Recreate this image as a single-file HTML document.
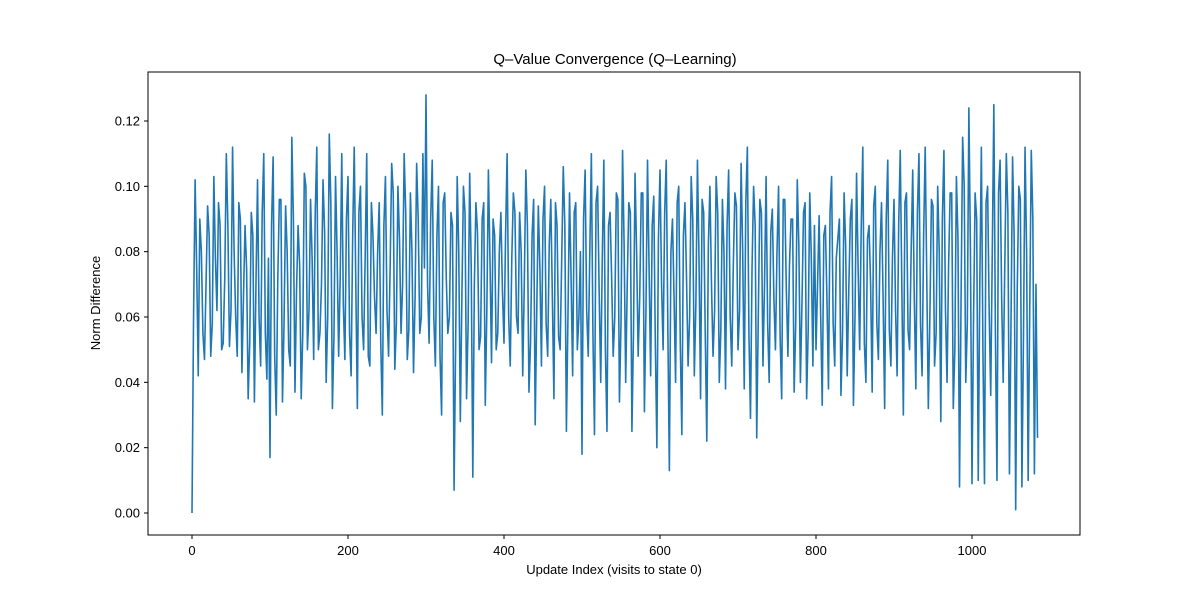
<!DOCTYPE html>
<html><head><meta charset="utf-8"><style>
body{margin:0;background:#fff;}
text{font-family:"Liberation Sans","DejaVu Sans",sans-serif;fill:#000;}
</style></head><body>
<svg id="chart" width="1200" height="600">
<rect width="1200" height="600" fill="#fff"/>
<text x="615" y="64" font-size="15" text-anchor="middle">Q–Value Convergence (Q–Learning)</text>
<text x="614" y="574" font-size="13" text-anchor="middle">Update Index (visits to state 0)</text>
<text transform="translate(100,303) rotate(-90)" font-size="13" text-anchor="middle">Norm Difference</text>
<g id="xticks"></g>
<g id="yticks"></g>
<path id="line" fill="none" stroke="#1f77b4" stroke-width="1.6" stroke-linejoin="round"/>
<rect x="148" y="72" width="932" height="463" fill="none" stroke="#000" stroke-width="1"/>
</svg>
<script>
const xTickValues=[0,200,400,600,800,1000];
const yTickValues=[0,0.02,0.04,0.06,0.08,0.10,0.12];
const yTickLabels=["0.00","0.02","0.04","0.06","0.08","0.10","0.12"];
const indexStep=4;
const valuesMilli=[
0,102,42,80,47,94,48,103,62,88,52,110,51,112,60,95,43,88,35,92,34,102,45,110,41,
17,109,30,96,34,94,50,115,37,88,35,104,50,96,47,112,55,102,40,116,32,103,48,110,47,
103,42,112,32,100,50,110,45,85,55,95,30,103,48,107,44,100,55,110,47,98,43,107,55,110,
128,52,108,45,100,30,98,55,92,7,103,28,100,35,104,11,95,50,90,33,105,46,85,55,92,
52,110,45,98,60,92,42,105,37,85,27,94,45,100,48,96,35,88,50,106,25,98,42,95,60,
18,105,48,110,24,100,40,108,25,92,48,98,34,111,40,95,25,104,48,98,31,108,42,97,20,
105,50,108,13,90,40,100,24,95,45,103,42,108,35,92,22,100,48,103,40,96,38,105,45,98,
50,107,38,112,29,100,23,96,45,103,40,93,50,100,35,96,48,90,37,102,40,92,35,98,45,
50,91,33,88,38,103,45,84,36,98,42,90,33,104,50,112,40,88,37,100,47,95,32,108,45,
96,42,111,30,98,50,105,38,110,42,112,32,96,45,100,28,111,40,98,32,103,8,115,40,124,
9,98,10,112,9,100,36,125,10,108,40,110,12,109,1,100,8,112,10,111,12,23
];
const midValuesMilli=[
60,75,90,55,70,85,58,78,95,50,72,88,62,80,48,90,66,75,52,85,70,60,92,55,78,
88,48,72,96,58,80,45,90,68,76,55,100,62,78,92,50,70,86,60,95,54,80,72,64,90,
55,85,70,92,60,78,48,95,66,80,52,88,62,75,98,58,84,70,92,56,80,66,90,60,75,
70,90,60,85,48,95,72,60,88,52,80,66,92,58,75,70,86,54,95,62,78,90,50,80,68,
85,60,78,92,55,80,70,88,52,96,62,75,90,58,82,66,95,54,78,88,60,72,92,50,80,
90,62,80,55,95,68,78,50,88,72,60,96,58,82,70,92,55,80,66,98,62,75,88,52,84,
70,92,58,80,66,95,52,85,72,60,90,64,78,96,55,82,70,62,92,56,80,88,60,76,94,
62,80,95,55,75,88,60,92,70,58,86,66,80,54,96,68,76,90,58,82,64,95,56,78,88,
70,60,85,66,92,58,78,90,55,82,68,96,60,75,88,52,84,70,94,58,80,66,90,56,78,
62,88,70,95,56,80,66,92,58,85,72,60,94,55,80,90,62,76,98,50,84,66,100,58,80,
60,90,70,50,95,62,80,55,98,66,75,92,58,85,68,96,54,80,62,90,70
];
const ns="http://www.w3.org/2000/svg";
function xScale(v){return 192+v*0.78;}
function yScale(v){return 513-v*(392/0.12);}
const xg=document.getElementById('xticks'),yg=document.getElementById('yticks');
xTickValues.forEach(v=>{
  const l=document.createElementNS(ns,'line');
  
  
  l.setAttribute('x1',xScale(v));l.setAttribute('x2',xScale(v));l.setAttribute('y1',535);l.setAttribute('y2',539);l.setAttribute('stroke','#000');
  xg.appendChild(l);
  const t=document.createElementNS(ns,'text');
  
  
  t.setAttribute('x',xScale(v));t.setAttribute('y',555);t.setAttribute('font-size','13');t.setAttribute('text-anchor','middle');
  t.textContent=v;xg.appendChild(t);
});
yTickValues.forEach((v,i)=>{
  const l=document.createElementNS(ns,'line');
  
  
  l.setAttribute('x1',144);l.setAttribute('x2',148);l.setAttribute('y1',yScale(v));l.setAttribute('y2',yScale(v));l.setAttribute('stroke','#000');
  yg.appendChild(l);
  const t=document.createElementNS(ns,'text');
  
  
  t.setAttribute('x',140);t.setAttribute('y',yScale(v)+4.5);t.setAttribute('font-size','13');t.setAttribute('text-anchor','end');
  t.textContent=yTickLabels[i];yg.appendChild(t);
});
let d='';
valuesMilli.forEach((v,i)=>{
  d+=(i?'L':'M')+xScale(i*indexStep).toFixed(2)+','+yScale(v/1000).toFixed(2);
  if(i<midValuesMilli.length){
    d+='L'+xScale(i*indexStep+indexStep/2).toFixed(2)+','+yScale(midValuesMilli[i]/1000).toFixed(2);
  }
});
document.getElementById('line').setAttribute('d',d);
</script>
</body></html>
